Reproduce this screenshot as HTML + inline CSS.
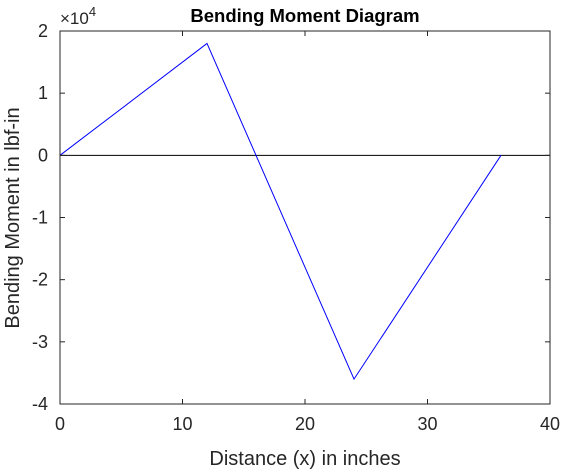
<!DOCTYPE html>
<html><head><meta charset="utf-8"><style>
body{margin:0;background:#fff;}
svg{display:block;font-family:"Liberation Sans",Arial,sans-serif;}
</style></head><body>
<svg id="chart" width="564" height="471" viewBox="0 0 564 471">
<rect x="0" y="0" width="564" height="471" fill="#fff"/>
<g id="marks"></g>
<g id="axes"></g>
<text x="305" y="22" text-anchor="middle" font-size="18.5" font-weight="bold">Bending Moment Diagram</text>
<text x="305" y="465" text-anchor="middle" font-size="20" fill="#262626">Distance (x) in inches</text>
<text transform="translate(19,218) rotate(-90)" text-anchor="middle" font-size="20" fill="#262626">Bending Moment in lbf-in</text>
<text x="60" y="24" font-size="17" fill="#262626">×10<tspan dy="-8" font-size="13">4</tspan></text>
</svg>
<script>
const xs = [0, 12, 24, 36];
const moments = [0, 18000, -36000, 0];
const xTicks = [0, 10, 20, 30, 40];
const yTicks = [2, 1, 0, -1, -2, -3, -4];
const L=60,R=550,T=31,B=404;
const sx=v=>L+(v-0)/40*(R-L);
const sy=v=>T+(2-v)/6*(B-T);
const NS="http://www.w3.org/2000/svg";
function mk(t,a,p){const e=document.createElementNS(NS,t);for(const k in a)e.setAttribute(k,a[k]);p.appendChild(e);return e;}
const ax=document.getElementById('axes'), mg=document.getElementById('marks');
const zl=mk('line',{x1:L,x2:R,y1:sy(0),y2:sy(0),stroke:'#000','stroke-width':1},mg);


const pl=mk('polyline',{points:xs.map((x,i)=>sx(x)+','+sy(moments[i]/10000)).join(' '),fill:'none',stroke:'#0000ff','stroke-width':1},mg);


const box=mk('rect',{x:L,y:T,width:R-L,height:B-T,fill:'none',stroke:'#262626','stroke-width':1},ax);


xTicks.forEach(v=>{const x=sx(v);
mk('line',{x1:x,x2:x,y1:B,y2:B-5,stroke:'#262626'},ax);
mk('line',{x1:x,x2:x,y1:T,y2:T+5,stroke:'#262626'},ax);
const t=mk('text',{x:x,y:B+26,'text-anchor':'middle','font-size':18,fill:'#262626'},ax);t.textContent=v;

});
yTicks.forEach(v=>{const y=sy(v);
mk('line',{x1:L,x2:L+5,y1:y,y2:y,stroke:'#262626'},ax);
mk('line',{x1:R,x2:R-5,y1:y,y2:y,stroke:'#262626'},ax);
const t=mk('text',{x:L-12,y:y+6,'text-anchor':'end','font-size':18,fill:'#262626'},ax);t.textContent=v;

});
</script>
</body></html>
